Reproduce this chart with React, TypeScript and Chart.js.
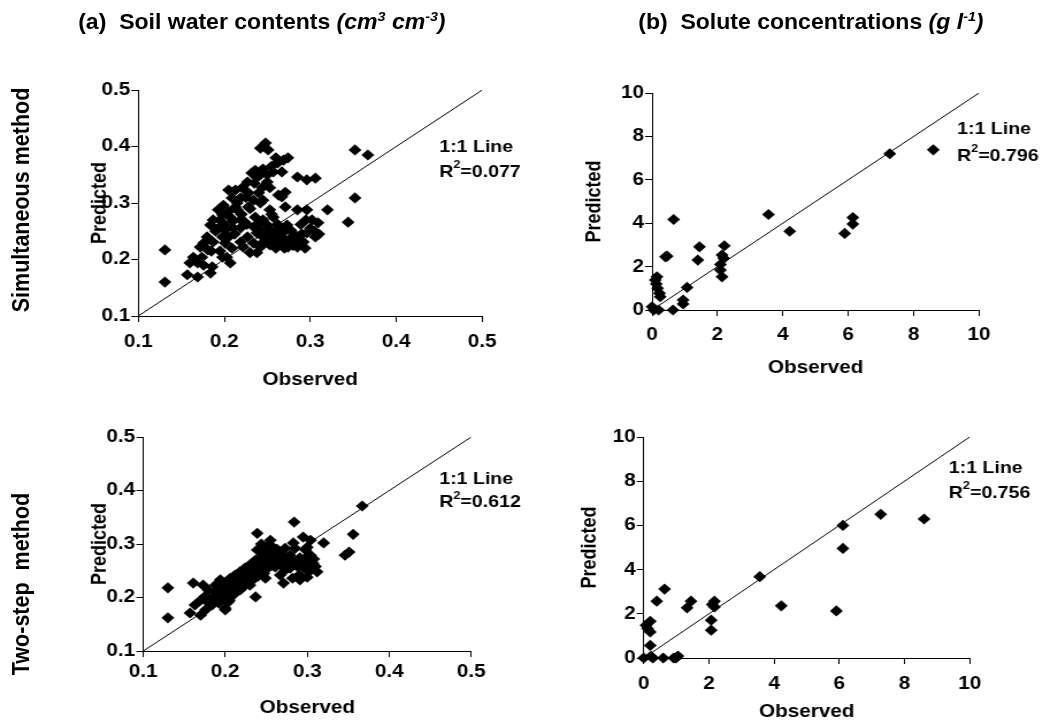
import React, { useEffect, useRef } from "react";
import { Chart, registerables } from "chart.js";

Chart.register(...registerables);

// ---------- DATA ----------
// (a) Soil water contents – Simultaneous method
const swcSimObs = [
  0.131, 0.131, 0.248, 0.242, 0.251, 0.269, 0.274, 0.262, 0.257, 0.267, 0.236, 0.242, 0.232, 0.250,
  0.285, 0.296, 0.306, 0.352, 0.352, 0.344, 0.320, 0.271, 0.267, 0.263, 0.271, 0.285, 0.253, 0.244,
  0.240, 0.227, 0.221, 0.213, 0.205, 0.209, 0.219, 0.234, 0.242, 0.199, 0.213, 0.228, 0.187, 0.198,
  0.207, 0.219, 0.184, 0.195, 0.210, 0.224, 0.234, 0.242, 0.253, 0.257, 0.250, 0.262, 0.273, 0.296,
  0.302, 0.309, 0.306, 0.296, 0.292, 0.294, 0.285, 0.279, 0.277, 0.265, 0.256, 0.245, 0.238, 0.234,
  0.242, 0.253, 0.265, 0.274, 0.230, 0.238, 0.222, 0.227, 0.219, 0.205, 0.201, 0.209, 0.203, 0.207,
  0.198, 0.180, 0.176, 0.172, 0.187, 0.181, 0.174, 0.164, 0.169, 0.160, 0.176, 0.184, 0.169, 0.157,
  0.186, 0.219, 0.201, 0.215, 0.193, 0.367, 0.260, 0.270, 0.275, 0.280, 0.285, 0.290, 0.255, 0.265,
  0.250, 0.245, 0.260, 0.270, 0.280, 0.289, 0.295, 0.300, 0.305, 0.310,
  0.195, 0.200, 0.205, 0.210, 0.215, 0.220, 0.225, 0.230, 0.235, 0.228, 0.238, 0.245, 0.255, 0.260,
  0.250, 0.245, 0.236, 0.226, 0.212, 0.198, 0.190, 0.185, 0.195, 0.248, 0.258, 0.262, 0.268, 0.276,
  0.282, 0.270, 0.252, 0.240, 0.262, 0.278, 0.245, 0.255,
];
const swcSimPred = [
  0.217, 0.160, 0.406, 0.397, 0.394, 0.376, 0.380, 0.371, 0.355, 0.355, 0.358, 0.350, 0.353, 0.337,
  0.346, 0.341, 0.344, 0.394, 0.309, 0.266, 0.288, 0.319, 0.311, 0.314, 0.293, 0.288, 0.327, 0.327,
  0.318, 0.337, 0.327, 0.323, 0.323, 0.309, 0.309, 0.305, 0.300, 0.296, 0.293, 0.293, 0.270, 0.279,
  0.275, 0.270, 0.261, 0.258, 0.256, 0.266, 0.258, 0.265, 0.288, 0.275, 0.261, 0.261, 0.261, 0.288,
  0.270, 0.265, 0.240, 0.247, 0.231, 0.220, 0.222, 0.240, 0.252, 0.247, 0.243, 0.240, 0.247, 0.229,
  0.222, 0.226, 0.229, 0.222, 0.212, 0.212, 0.222, 0.240, 0.231, 0.240, 0.229, 0.220, 0.204, 0.194,
  0.204, 0.240, 0.229, 0.222, 0.231, 0.217, 0.204, 0.204, 0.194, 0.194, 0.190, 0.176, 0.169, 0.173,
  0.187, 0.256, 0.252, 0.288, 0.288, 0.385, 0.235, 0.235, 0.235, 0.225, 0.235, 0.245, 0.250, 0.255,
  0.240, 0.230, 0.220, 0.220, 0.230, 0.262, 0.270, 0.255, 0.250, 0.245,
  0.270, 0.262, 0.285, 0.268, 0.300, 0.280, 0.310, 0.290, 0.335, 0.318, 0.345, 0.360, 0.365, 0.380,
  0.350, 0.305, 0.275, 0.262, 0.245, 0.240, 0.250, 0.215, 0.215, 0.248, 0.232, 0.245, 0.238, 0.228,
  0.242, 0.250, 0.232, 0.255, 0.262, 0.250, 0.270, 0.280,
];

// (a) Soil water contents – Two-step method
const swcTwoObs = [
  0.130, 0.130, 0.161, 0.173, 0.157, 0.170, 0.200, 0.237, 0.239, 0.284, 0.283, 0.295, 0.320, 0.346,
  0.351, 0.356, 0.367, 0.239, 0.255, 0.304, 0.163, 0.170, 0.176, 0.182, 0.179, 0.188, 0.188, 0.194,
  0.194, 0.200, 0.200, 0.206, 0.206, 0.212, 0.212, 0.218, 0.218, 0.224, 0.224, 0.230, 0.230, 0.237,
  0.237, 0.243, 0.243, 0.249, 0.249, 0.255, 0.255, 0.261, 0.261, 0.267, 0.267, 0.273, 0.273, 0.279,
  0.279, 0.285, 0.291, 0.298, 0.298, 0.304, 0.306, 0.302, 0.290, 0.291, 0.267, 0.249, 0.230, 0.218,
  0.204, 0.184, 0.176, 0.200, 0.255, 0.245, 0.273, 0.285, 0.300, 0.298, 0.307, 0.312, 0.300, 0.271,
  0.282, 0.263, 0.246,
  0.185, 0.190, 0.195, 0.198, 0.203, 0.208, 0.210, 0.215, 0.220, 0.222, 0.226, 0.228, 0.233, 0.235,
  0.240, 0.240, 0.245, 0.247, 0.252, 0.252, 0.258, 0.258, 0.263, 0.263, 0.270, 0.270, 0.276, 0.276,
  0.283, 0.288, 0.292, 0.296, 0.303, 0.308, 0.310, 0.244, 0.250, 0.215, 0.205, 0.192, 0.180, 0.176,
];
const swcTwoPred = [
  0.218, 0.162, 0.227, 0.223, 0.171, 0.167, 0.177, 0.201, 0.320, 0.341, 0.302, 0.313, 0.302, 0.279,
  0.285, 0.318, 0.371, 0.289, 0.307, 0.307, 0.186, 0.195, 0.203, 0.195, 0.214, 0.210, 0.223, 0.218,
  0.233, 0.227, 0.205, 0.236, 0.214, 0.242, 0.223, 0.248, 0.229, 0.255, 0.233, 0.261, 0.242, 0.270,
  0.248, 0.274, 0.251, 0.283, 0.261, 0.289, 0.266, 0.279, 0.257, 0.285, 0.266, 0.270, 0.251, 0.279,
  0.255, 0.266, 0.274, 0.289, 0.261, 0.279, 0.261, 0.248, 0.242, 0.233, 0.242, 0.236, 0.223, 0.214,
  0.192, 0.186, 0.177, 0.180, 0.298, 0.293, 0.292, 0.292, 0.294, 0.274, 0.264, 0.248, 0.238, 0.227,
  0.236, 0.274, 0.279,
  0.200, 0.205, 0.212, 0.198, 0.220, 0.225, 0.205, 0.232, 0.238, 0.220, 0.245, 0.230, 0.250, 0.235,
  0.258, 0.240, 0.265, 0.245, 0.272, 0.255, 0.284, 0.260, 0.290, 0.262, 0.280, 0.258, 0.274, 0.262,
  0.262, 0.258, 0.262, 0.255, 0.268, 0.272, 0.258, 0.300, 0.295, 0.215, 0.195, 0.190, 0.190, 0.195,
];

// (b) Solute concentrations – Simultaneous method
const solSimObs = [
  0.0, 0.2, 0.64, 0.66, 0.15, 0.13, 0.17, 0.23, 0.25, 0.1, 0.41, 0.46, 0.95, 0.95, 1.07, 1.4, 1.45,
  2.09, 2.09, 2.14, 2.19, 2.21, 2.14, 3.56, 4.21, 5.89, 6.14, 6.14, 7.27, 8.6, 0.05,
];
const solSimPred = [
  0.15, 0.0, 0.0, 4.17, 1.53, 1.2, 1.0, 0.77, 0.61, 1.38, 2.45, 2.48, 0.46, 0.28, 1.04, 2.3, 2.91,
  2.1, 1.84, 1.53, 2.38, 2.96, 2.53, 4.4, 3.63, 3.53, 3.96, 4.26, 7.2, 7.38, 0.0,
];

// (b) Solute concentrations – Two-step method
const solTwoObs = [
  0.0, 0.07, 0.12, 0.2, 0.2, 0.2, 0.28, 0.22, 0.4, 0.64, 0.6, 0.92, 1.05, 0.99, 1.33, 1.45, 2.07,
  2.07, 2.1, 2.17, 2.17, 3.56, 4.22, 5.91, 6.11, 6.11, 7.27, 8.6,
];
const solTwoPred = [
  0.0, 1.48, 1.33, 1.66, 1.18, 0.57, 0.0, 0.08, 2.57, 3.12, 0.0, 0.0, 0.09, 0.0, 2.27, 2.57, 1.71,
  1.26, 2.42, 2.57, 2.31, 3.68, 2.36, 2.13, 6.0, 4.96, 6.5, 6.29,
];

const r2Labels = ["0.077", "0.796", "0.612", "0.756"];
const swcTicks = [0.1, 0.2, 0.3, 0.4, 0.5];
const solTicks = [0, 2, 4, 6, 8, 10];

// ---------- LAYOUT ----------
const FONT = "'Liberation Sans', Arial, Helvetica, sans-serif";
const S = 1.15; // horizontal stretch of the original figure
const TITLE_SIZE = 18;
const HALF_LH = (TITLE_SIZE * 1.2) / 2;

type PanelCfg = {
  cl: number; ct: number; cw: number; ch: number; // canvas box (page px)
  L: number; R: number; T: number; B: number; // plot area (page px)
  yTitleX: number; xTitleY: number; xTickPad: number;
  ticks: number[]; xs: number[]; ys: number[];
  ann: { x: number; y1: number; y2: number; r2: string };
};

const panels: PanelCfg[] = [
  {
    cl: 40, ct: 70, cw: 490, ch: 340, L: 138, R: 482, T: 90, B: 316,
    yTitleX: 100, xTitleY: 380, xTickPad: 9, ticks: swcTicks, xs: swcSimObs, ys: swcSimPred,
    ann: { x: 0.45, y1: 0.399, y2: 0.355, r2: r2Labels[0] },
  },
  {
    cl: 560, ct: 70, cw: 482, ch: 330, L: 652, R: 979, T: 93, B: 310,
    yTitleX: 595, xTitleY: 368, xTickPad: 8, ticks: solTicks, xs: solSimObs, ys: solSimPred,
    ann: { x: 9.33, y1: 8.34, y2: 7.1, r2: r2Labels[1] },
  },
  {
    cl: 40, ct: 415, cw: 490, ch: 312, L: 143, R: 471, T: 437, B: 651,
    yTitleX: 100, xTitleY: 708, xTickPad: 4, ticks: swcTicks, xs: swcTwoObs, ys: swcTwoPred,
    ann: { x: 0.461, y1: 0.421, y2: 0.377, r2: r2Labels[2] },
  },
  {
    cl: 550, ct: 415, cw: 492, ch: 312, L: 644, R: 970, T: 437, B: 658,
    yTitleX: 590, xTitleY: 712, xTickPad: 9, ticks: solTicks, xs: solTwoObs, ys: solTwoPred,
    ann: { x: 9.36, y1: 8.6, y2: 7.47, r2: r2Labels[3] },
  },
];

function Panel({ cfg }: { cfg: PanelCfg }) {
  const ref = useRef<HTMLCanvasElement>(null);
  const cwInt = Math.round(cfg.cw / S);
  useEffect(() => {
    if (!ref.current) return;
    const min = cfg.ticks[0];
    const max = cfg.ticks[cfg.ticks.length - 1];
    const step = cfg.ticks[1] - cfg.ticks[0];
    const pts = cfg.xs.map((x, i) => ({ x, y: cfg.ys[i] }));
    const yW = (cfg.L - cfg.cl) / S;
    const areaW = (cfg.R - cfg.L) / S;
    const padRight = cwInt - yW - areaW;
    const padTop = cfg.T - cfg.ct;
    const xH = cfg.ct + cfg.ch - cfg.B;
    const yTitlePad = (cfg.yTitleX - cfg.cl) / S - HALF_LH;
    const xTitlePad = Math.max(0, cfg.ct + cfg.ch - cfg.xTitleY - HALF_LH);
    const tickFont = { family: FONT, size: 18, weight: "bold" as const };
    const titleFont = { family: FONT, size: TITLE_SIZE, weight: "bold" as const };

    const annPlugin = {
      id: "ann",
      afterDatasetsDraw(chart: any) {
        const { ctx, scales } = chart;
        const px = scales.x.getPixelForValue(cfg.ann.x);
        const py1 = scales.y.getPixelForValue(cfg.ann.y1);
        const py2 = scales.y.getPixelForValue(cfg.ann.y2);
        ctx.save();
        ctx.fillStyle = "#000";
        ctx.textBaseline = "middle";
        ctx.textAlign = "left";
        ctx.font = `bold 17px ${FONT}`;
        ctx.fillText("1:1 Line", px, py1);
        ctx.fillText("R", px, py2);
        const rw = ctx.measureText("R").width;
        ctx.font = `bold 11px ${FONT}`;
        ctx.fillText("2", px + rw, py2 - 7);
        const sw = ctx.measureText("2").width;
        ctx.font = `bold 17px ${FONT}`;
        ctx.fillText("=" + cfg.ann.r2, px + rw + sw, py2);
        ctx.restore();
      },
    };

    const chart = new Chart(ref.current, {
      type: "scatter",
      data: {
        datasets: [
          {
            data: pts,
            pointStyle: "rectRot",
            pointRadius: 5.6,
            backgroundColor: "#000",
            borderColor: "#000",
            borderWidth: 0,
            clip: false,
          } as any,
          {
            data: [{ x: min, y: min }, { x: max, y: max }],
            showLine: true,
            borderColor: "#000",
            borderWidth: 1,
            pointRadius: 0,
          } as any,
        ],
      },
      options: {
        responsive: false,
        animation: false,
        devicePixelRatio: 1,
        layout: { padding: { top: padTop, right: padRight, left: 0, bottom: 0 } },
        plugins: { legend: { display: false }, tooltip: { enabled: false } },
        scales: {
          x: {
            type: "linear",
            min, max,
            ticks: { stepSize: step, color: "#000", font: tickFont, padding: cfg.xTickPad, maxRotation: 0 },
            grid: { drawOnChartArea: false, color: "#000", tickLength: 6 },
            border: { color: "#000", width: 1 },
            title: {
              display: true, text: "Observed", color: "#000", font: titleFont,
              padding: { top: 0, bottom: xTitlePad },
            },
            afterFit: (s: any) => { s.height = xH; },
          },
          y: {
            type: "linear",
            min, max,
            ticks: { stepSize: step, color: "#000", font: tickFont, padding: 1 },
            grid: { drawOnChartArea: false, color: "#000", tickLength: 6 },
            border: { color: "#000", width: 1 },
            title: {
              display: true, text: "Predicted", color: "#000", font: titleFont,
              padding: { top: yTitlePad, bottom: 0 },
            },
            afterFit: (s: any) => { s.width = yW; },
          },
        },
      } as any,
      plugins: [annPlugin],
    });
    return () => chart.destroy();
  }, [cfg]);
  return (
    <canvas
      ref={ref}
      width={cwInt}
      height={cfg.ch}
      style={{
        position: "absolute",
        left: cfg.cl / S,
        top: cfg.ct,
        width: cwInt,
        height: cfg.ch,
      }}
    />
  );
}

const headStyle: React.CSSProperties = {
  position: "absolute",
  top: 8,
  fontFamily: FONT,
  fontWeight: "bold",
  fontSize: 22,
  whiteSpace: "pre",
  color: "#000",
  lineHeight: "28px",
  transform: "scaleX(0.91)",
  transformOrigin: "0 0",
};
const supStyle: React.CSSProperties = { fontSize: "0.62em", verticalAlign: "0.6em", lineHeight: 0 };

function RowLabel({ text, cx, cy }: { text: string; cx: number; cy: number }) {
  const w = 300;
  const h = 26;
  return (
    <div
      style={{
        position: "absolute",
        left: cx / S - w / 2,
        top: cy - h / 2,
        width: w,
        height: h,
        lineHeight: `${h}px`,
        textAlign: "center",
        transform: "rotate(-90deg)",
        fontFamily: FONT,
        fontWeight: "bold",
        fontSize: 21.5,
        whiteSpace: "pre",
        color: "#000",
      }}
    >
      {text}
    </div>
  );
}

export default function App() {
  return (
    <div style={{ position: "absolute", left: 0, top: 0, width: 1042, height: 722, background: "#fff", overflow: "hidden" }}>
      <div
        style={{
          position: "absolute",
          left: 0,
          top: 0,
          width: 1042 / S,
          height: 722,
          transform: `scaleX(${S})`,
          transformOrigin: "0 0",
        }}
      >
        <div style={{ ...headStyle, left: 78 / S }}>
          {"(a)  Soil water contents "}
          <i>
            (cm<sup style={supStyle}>3</sup> cm<sup style={supStyle}>-3</sup>)
          </i>
        </div>
        <div style={{ ...headStyle, left: 638 / S }}>
          {"(b)  Solute concentrations "}
          <i>
            (g l<sup style={supStyle}>-1</sup>)
          </i>
        </div>
        <RowLabel text="Simultaneous method" cx={21} cy={200} />
        <RowLabel text="Two-step  method" cx={21} cy={584} />
        {panels.map((p, i) => (
          <Panel key={i} cfg={p} />
        ))}
      </div>
    </div>
  );
}
